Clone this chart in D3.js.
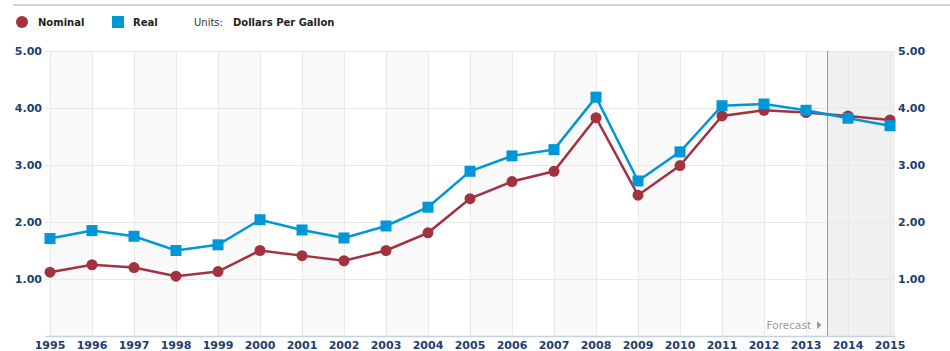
<!DOCTYPE html>
<html>
<head>
<meta charset="utf-8">
<script src="https://cdn.jsdelivr.net/npm/d3@7"></script>
<style>
  body { margin: 0; background: #fff; }
  svg { display: block; font-family: "DejaVu Sans", Verdana, sans-serif; }
</style>
</head>
<body>
<svg id="chart" width="950" height="351"></svg>
<script>
// data
let years = [1995, 1996, 1997, 1998, 1999, 2000, 2001, 2002, 2003, 2004, 2005,
             2006, 2007, 2008, 2009, 2010, 2011, 2012, 2013, 2014, 2015];
let nominal = [1.12, 1.25, 1.20, 1.05, 1.13, 1.50, 1.41, 1.32, 1.50, 1.81, 2.41,
               2.71, 2.89, 3.83, 2.47, 2.99, 3.86, 3.96, 3.92, 3.86, 3.79];
let real = [1.71, 1.85, 1.75, 1.50, 1.60, 2.04, 1.86, 1.72, 1.93, 2.26, 2.89,
            3.16, 3.27, 4.19, 2.72, 3.23, 4.04, 4.07, 3.96, 3.82, 3.69];
let yTicks = [1, 2, 3, 4, 5];
let forecastStart = 2013.5;

const svg = d3.select("#chart");
const navy = "#1b3f6e";
const nomColor = "#a33241";
const realColor = "#0097d8";

let x = d3.scaleLinear().domain([1995, 2015]).range([50, 890]);
let y = d3.scaleLinear().domain([0, 5]).range([336, 51]);
const plotRight = 895;

// top rule
svg.append("line").attr("x1", 13).attr("x2", 950).attr("y1", 5).attr("y2", 5)
  .attr("stroke", "#aaa").attr("stroke-width", 1);

// legend
svg.append("circle").attr("cx", 22).attr("cy", 22).attr("r", 6).attr("fill", nomColor);
svg.append("text").attr("x", 38).attr("y", 26).text("Nominal")
  .attr("font-size", 10).attr("font-weight", "bold").attr("fill", "#222");
svg.append("rect").attr("x", 112).attr("y", 16).attr("width", 12).attr("height", 12).attr("fill", realColor);
svg.append("text").attr("x", 133).attr("y", 26).text("Real")
  .attr("font-size", 10).attr("font-weight", "bold").attr("fill", "#222");
svg.append("text").attr("x", 194).attr("y", 26).text("Units:")
  .attr("font-size", 10).attr("fill", "#333");
svg.append("text").attr("x", 233).attr("y", 26).text("Dollars Per Gallon")
  .attr("font-size", 10).attr("font-weight", "bold").attr("fill", "#222");

// alternating bands
let bands = years.filter((d, i) => i % 2 == 0 && d < 2015);
svg.append("g").selectAll("rect").data(bands).join("rect")
  .attr("x", d => x(d)).attr("y", y(5))
  .attr("width", d => x(d + 1) - x(d)).attr("height", y(0) - y(5))
  .attr("fill", "#f9f9f9");

// forecast area
svg.append("rect").attr("x", x(forecastStart)).attr("y", y(5))
  .attr("width", plotRight - x(forecastStart)).attr("height", y(0) - y(5))
  .attr("fill", "#f0f0f0");

// grid
let grid = svg.append("g").attr("stroke", "#e8e8e8").attr("stroke-width", 1);
grid.selectAll(".v").data(years).join("line")
  .attr("x1", d => Math.round(x(d)) + 0.5).attr("x2", d => Math.round(x(d)) + 0.5)
  .attr("y1", y(5)).attr("y2", y(0));
grid.selectAll(".h").data(yTicks).join("line")
  .attr("x1", 45).attr("x2", plotRight)
  .attr("y1", d => Math.round(y(d)) + 0.5).attr("y2", d => Math.round(y(d)) + 0.5);

// forecast divider
svg.append("line").attr("x1", Math.round(x(forecastStart)) + 0.5).attr("x2", Math.round(x(forecastStart)) + 0.5)
  .attr("y1", y(5)).attr("y2", y(0)).attr("stroke", "#999");
svg.append("text").attr("x", x(forecastStart) - 16).attr("y", 329)
  .attr("text-anchor", "end").attr("font-size", 10.5).attr("fill", "#999").text("Forecast");
svg.append("path")
  .attr("d", `M${x(forecastStart) - 10},321 l4.5,4 l-4.5,4 z`).attr("fill", "#999");

// x axis
svg.append("line").attr("x1", 45).attr("x2", plotRight).attr("y1", 336.5).attr("y2", 336.5)
  .attr("stroke", "#c5d3e0").attr("stroke-width", 1.5);
svg.append("g").selectAll("text").data(years).join("text")
  .attr("x", d => x(d)).attr("y", 349).attr("text-anchor", "middle")
  .attr("font-size", 11).attr("font-weight", "bold").attr("fill", navy)
  .text(d => d);

// y labels both sides
svg.append("g").selectAll("text").data(yTicks).join("text")
  .attr("x", 42).attr("y", d => y(d) + 4).attr("text-anchor", "end")
  .attr("font-size", 11).attr("font-weight", "bold").attr("fill", navy)
  .text(d => d3.format(".2f")(d));
svg.append("g").selectAll("text").data(yTicks).join("text")
  .attr("x", 898).attr("y", d => y(d) + 4).attr("text-anchor", "start")
  .attr("font-size", 11).attr("font-weight", "bold").attr("fill", navy)
  .text(d => d3.format(".2f")(d));

// lines
let nomData = years.map((d, i) => [d, nominal[i]]);
let realData = years.map((d, i) => [d, real[i]]);
let line = d3.line().x(d => x(d[0])).y(d => y(d[1]));

svg.append("path").datum(nomData).attr("d", line)
  .attr("fill", "none").attr("stroke", nomColor).attr("stroke-width", 2.5);
svg.append("g").selectAll("circle").data(nomData).join("circle")
  .attr("cx", d => x(d[0])).attr("cy", d => y(d[1])).attr("r", 5.5)
  .attr("fill", nomColor);

svg.append("path").datum(realData).attr("d", line)
  .attr("fill", "none").attr("stroke", realColor).attr("stroke-width", 2.5);
svg.append("g").selectAll("rect").data(realData).join("rect")
  .attr("x", d => x(d[0]) - 5.5).attr("y", d => y(d[1]) - 5.5)
  .attr("width", 11).attr("height", 11)
  .attr("fill", realColor);
</script>
</body>
</html>
